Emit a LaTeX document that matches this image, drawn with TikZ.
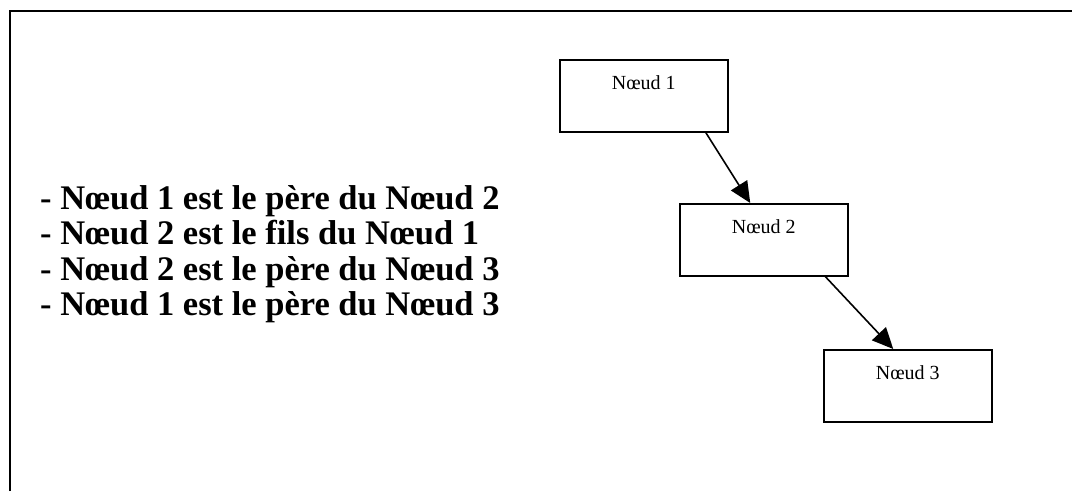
\documentclass[tikz,border=0pt]{standalone}
\usepackage{fontspec}
\setmainfont{Liberation Serif}
\usetikzlibrary{arrows.meta}
\begin{document}
\begin{tikzpicture}[x=1pt,y=-1pt,
  treebox/.style={draw,line width=1.5pt,rectangle,inner sep=0pt,anchor=north west,
    minimum width=168pt,text height=30pt,text depth=42pt,font=\fontsize{20}{24}\selectfont},
  fact/.style={anchor=base west,inner sep=0pt,font=\fontsize{34.5}{40}\selectfont\bfseries},
  link/.style={line width=1.6pt,-{Triangle[length=21pt,width=19pt]}},
  frame/.style={line width=2pt}]
  \useasboundingbox (0,0) rectangle (1072,491);

  % open frame: top and left edges only
  \coordinate (fb) at (9.5,491);
  \coordinate (fc) at (9.5,10.5);
  \coordinate (fr) at (1072,10.5);
  \draw[frame] (fb) -- (fc) -- (fr);

  % the tree
  \node[treebox] (n1) at (559,59) {Nœud 1};
  \node[treebox] (n2) at (679,203) {Nœud 2};
  \node[treebox] (n3) at (823,349) {Nœud 3};

  \draw[link] ([xshift=62pt]n1.south) -- ([xshift=-13.5pt]n2.north);
  \draw[link] ([xshift=61.5pt]n2.south) -- ([xshift=-14.5pt]n3.north);

  % relations
  \node[fact] (l1) at (40,209) {- Nœud 1 est le père du Nœud 2};
  \node[fact] (l2) at (40,244.5) {- Nœud 2 est le fils du Nœud 1};
  \node[fact] (l3) at (40,280) {- Nœud 2 est le père du Nœud 3};
  \node[fact] (l4) at (40,315.5) {- Nœud 1 est le père du Nœud 3};
\end{tikzpicture}
\end{document}
